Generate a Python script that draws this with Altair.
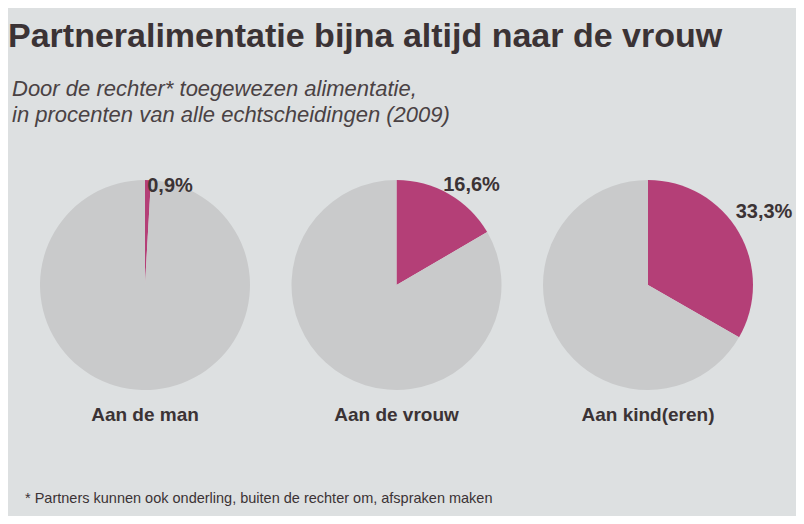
import altair as alt
import pandas as pd

categories = ["Aan de man", "Aan de vrouw", "Aan kind(eren)"]
shares = [0.9, 16.6, 33.3]
share_labels = ["0,9%", "16,6%", "33,3%"]

title = "Partneralimentatie bijna altijd naar de vrouw"
subtitle = ["Door de rechter* toegewezen alimentatie,",
            "in procenten van alle echtscheidingen (2009)"]
footnote = "* Partners kunnen ook onderling, buiten de rechter om, afspraken maken"

MAGENTA = "#b43f77"
GREY = "#c9cacb"
BG = "#dde0e1"
INK = "#3b3335"
FONT = "Liberation Sans, Arial, sans-serif"

rows = []
for c, v in zip(categories, shares):
    rows.append({"cat": c, "part": "aandeel", "val": v, "ord": 0})
    rows.append({"cat": c, "part": "rest", "val": 100 - v, "ord": 1})
pies = pd.DataFrame(rows)
labels = pd.DataFrame({"cat": categories, "lab": share_labels})

W, H = 788, 508
xscale = alt.Scale(type="point", domain=categories, range=[137, 640], padding=0)
X = alt.X("cat:N", scale=xscale, axis=None)

pie = alt.Chart(pies).transform_stack(
    stack="val", groupby=["cat"], as_=["t0", "t1"], sort=[alt.SortField("ord")]
).mark_arc(radius=105, strokeWidth=0).encode(
    x=X,
    y=alt.value(277),
    theta=alt.Theta("t0:Q", scale=alt.Scale(domain=[0, 100], range=[0, 6.283185307])),
    theta2="t1:Q",
    color=alt.Color("part:N", scale=alt.Scale(domain=["aandeel", "rest"], range=[MAGENTA, GREY]), legend=None),
)

cat_text = alt.Chart(labels).transform_calculate(name="datum.cat").mark_text(
    font=FONT, fontSize=19, fontWeight="bold", color=INK, baseline="middle"
).encode(x=X, y=alt.value(407), text="name:N")

offsets = [(25, -99), (75, -100), (116, -73)]
pct_layers = []
for c, (dx, dy) in zip(categories, offsets):
    pct_layers.append(
        alt.Chart(labels).transform_filter(alt.datum.cat == c).mark_text(
            font=FONT, fontSize=20, fontWeight="bold", color=INK,
            baseline="middle", align="center", dx=dx, dy=dy
        ).encode(x=X, y=alt.value(277), text="lab:N")
    )

title_layer = alt.Chart(pd.DataFrame({"t": [title]})).mark_text(
    font=FONT, fontSize=34, fontWeight="bold", color=INK, align="left", baseline="alphabetic"
).encode(x=alt.value(0), y=alt.value(39), text="t:N")

sub_layers = []
for i, line in enumerate(subtitle):
    sub_layers.append(
        alt.Chart(pd.DataFrame({"t": [line]})).mark_text(
            font=FONT, fontSize=22, fontStyle="italic", color="#4a4244",
            align="left", baseline="alphabetic"
        ).encode(x=alt.value(4), y=alt.value(88 + 26 * i), text="t:N")
    )

foot_layer = alt.Chart(pd.DataFrame({"t": [footnote]})).mark_text(
    font=FONT, fontSize=14.5, color=INK, align="left", baseline="alphabetic"
).encode(x=alt.value(17), y=alt.value(495), text="t:N")

chart = alt.layer(pie, cat_text, *pct_layers, title_layer, *sub_layers, foot_layer).properties(
    width=W, height=H, background=BG, padding=0, autosize=alt.AutoSizeParams(type="none")
).configure_view(stroke=None)

chart.save("out.html", embed_options={"renderer": "svg", "actions": False})
